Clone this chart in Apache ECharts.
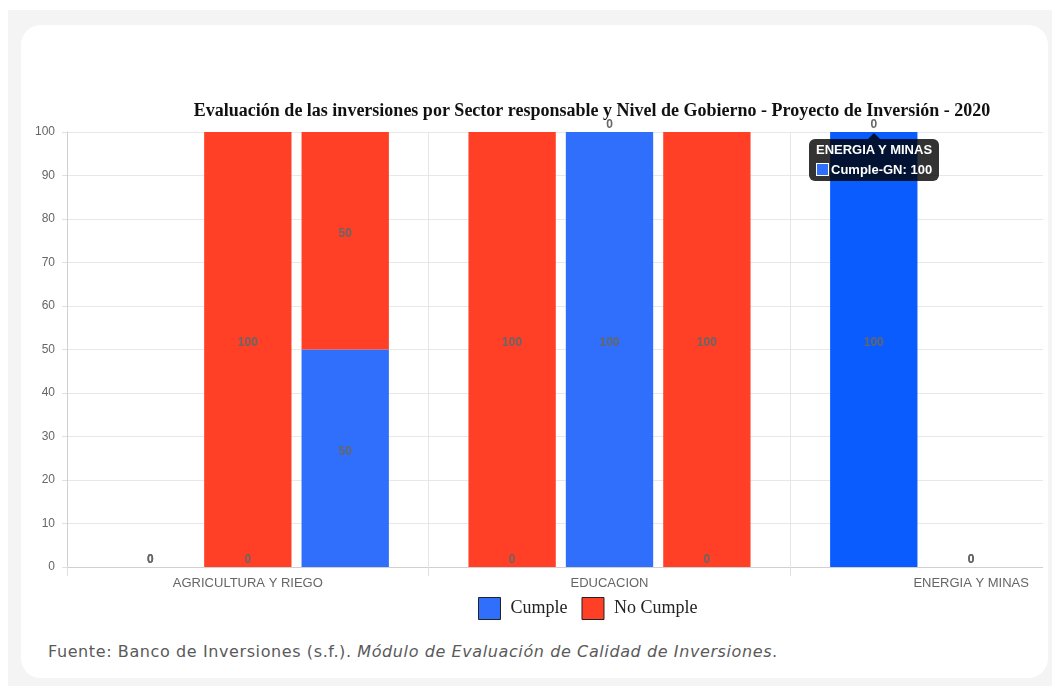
<!DOCTYPE html>
<html>
<head>
<meta charset="utf-8">
<script src="https://cdn.jsdelivr.net/npm/echarts@6/dist/echarts.min.js"></script>
<style>
  html, body { margin: 0; padding: 0; background: #ffffff; width: 1052px; height: 686px; overflow: hidden; }
  #bg { position: absolute; left: 8px; top: 10px; right: 0; bottom: 0; background: #f4f4f4; }
  #card { position: absolute; left: 21px; top: 25px; width: 1027px; height: 653px; background: #ffffff; border-radius: 20px; }
  #clip { position: absolute; left: 0; top: 0; width: 1022px; height: 600px; overflow: hidden; }
  #chart { position: absolute; left: 0; top: 0; width: 1142px; height: 600px; }
  #src { position: absolute; left: 27px; top: 617px; font-family: "DejaVu Sans", sans-serif; font-size: 16px; letter-spacing: 0.6px; color: #5a5a5a; white-space: nowrap; }
</style>
</head>
<body>
<div id="bg"></div>
<div id="card">
  <div id="clip"><div id="chart"></div></div>
  <div id="src">Fuente: Banco de Inversiones (s.f.). <i>Módulo de Evaluación de Calidad de Inversiones</i>.</div>
</div>
<script>
const titleText = 'Evaluación de las inversiones por Sector responsable y Nivel de Gobierno - Proyecto de Inversión - 2020';
const categories = ['AGRICULTURA Y RIEGO', 'EDUCACION', 'ENERGIA Y MINAS'];
const levels = ['GN', 'GR', 'GL'];
const cumpleGN   = [0, 0, 100];
const noCumpleGN = [0, 100, 0];
const cumpleGR   = [0, 100, 0];
const noCumpleGR = [100, 0, 0];
const cumpleGL   = [50, 0, 0];
const noCumpleGL = [50, 100, 0];
const legendNames = ['Cumple', 'No Cumple'];
const yMin = 0, yMax = 100, yStep = 10;
const tipSeriesId = 'Cumple-GN';
const tipDataIndex = 2;

const BLUE = '#2f6ffb', BLUE_HOVER = '#0b5cff', RED = '#ff4027';
const valueSets = {
  GN: [cumpleGN, noCumpleGN],
  GR: [cumpleGR, noCumpleGR],
  GL: [cumpleGL, noCumpleGL]
};

const series = [];
levels.forEach(lv => {
  const [c, n] = valueSets[lv];
  [[legendNames[0], 'Cumple-' + lv, c, BLUE], [legendNames[1], 'No Cumple-' + lv, n, RED]].forEach(([name, id, vals, col]) => {
    series.push({
      type: 'bar',
      name: name,
      id: id,
      stack: lv,
      data: vals,
      barGap: '11.5%',
      barCategoryGap: '22%',
      itemStyle: { color: col },
      emphasis: { focus: 'none', itemStyle: { color: col === BLUE ? BLUE_HOVER : col } },
      label: {
        show: true,
        position: 'inside',
        offset: [0, -7],
        color: '#666',
        fontFamily: 'Liberation Sans, Arial, sans-serif',
        fontSize: 12,
        fontWeight: 'bold',
        formatter: p => String(p.value)
      }
    });
  });
});

const chart = echarts.init(document.getElementById('chart'), null, { renderer: 'canvas' });
chart.setOption({
  animation: false,
  title: {
    text: titleText,
    left: 'center',
    top: 72,
    textStyle: { fontFamily: 'Liberation Serif, Times New Roman, serif', fontSize: 18, fontWeight: 'bold', color: '#111' }
  },
  legend: {
    data: legendNames,
    left: 452,
    top: 567,
    icon: 'rect',
    itemWidth: 22,
    itemHeight: 22,
    itemGap: 14,
    itemStyle: { borderColor: '#222', borderWidth: 1 },
    textStyle: { fontFamily: 'Liberation Serif, Times New Roman, serif', fontSize: 18, color: '#222', padding: [0, 0, 0, 5] }
  },
  tooltip: {
    trigger: 'item',
    triggerOn: 'none',
    alwaysShowContent: true,
    transitionDuration: 0,
    backgroundColor: 'rgba(0,0,0,0.8)',
    borderWidth: 0,
    padding: [4, 7],
    extraCssText: 'box-shadow:none;border-radius:6px;',
    textStyle: { color: '#fff', fontFamily: 'Liberation Sans, Arial, sans-serif', fontSize: 13, fontWeight: 'bold' },
    position: function (point, params, dom, rect, size) {
      const w = size.contentSize[0];
      return [rect.x + rect.width / 2 - w / 2, rect.y + 7];
    },
    formatter: function (p) {
      return '<div style="position:absolute;left:50%;top:-6px;margin-left:-6px;width:0;height:0;border-left:6px solid transparent;border-right:6px solid transparent;border-bottom:6px solid rgba(0,0,0,0.8);"></div>' +
        '<div style="font-weight:bold;line-height:14px;">' + p.name + '</div>' +
        '<div style="line-height:14px;margin-top:6px;font-weight:bold;"><span style="display:inline-block;width:11px;height:11px;background:' + p.color + ';border:1px solid #fff;vertical-align:-2px;margin-right:2px;"></span>' + p.seriesId + ': ' + p.value + '</div>';
    }
  },
  grid: { left: 46, top: 107, width: 1085, height: 435, containLabel: false },
  xAxis: {
    type: 'category',
    data: categories,
    boundaryGap: true,
    axisLine: { show: true, lineStyle: { color: '#d0d0d0' } },
    axisTick: { show: true, length: 9, lineStyle: { color: '#e0e0e0' } },
    axisLabel: { color: '#666', fontFamily: 'Liberation Sans, Arial, sans-serif', fontSize: 13, margin: 10 },
    splitLine: { show: true, lineStyle: { color: '#e6e6e6' } }
  },
  yAxis: {
    type: 'value',
    min: yMin,
    max: yMax,
    interval: yStep,
    axisLine: { show: true, lineStyle: { color: '#d0d0d0' } },
    axisTick: { show: true, length: 5, lineStyle: { color: '#e0e0e0' } },
    axisLabel: { color: '#666', fontFamily: 'Liberation Sans, Arial, sans-serif', fontSize: 12, margin: 12 },
    splitLine: { show: true, lineStyle: { color: '#e8e8e8' } }
  },
  series: series
});

const tipSeriesIndex = series.findIndex(s => s.id === tipSeriesId);
chart.dispatchAction({ type: 'highlight', seriesIndex: tipSeriesIndex, dataIndex: tipDataIndex });
chart.dispatchAction({ type: 'showTip', seriesIndex: tipSeriesIndex, dataIndex: tipDataIndex });
</script>
</body>
</html>
